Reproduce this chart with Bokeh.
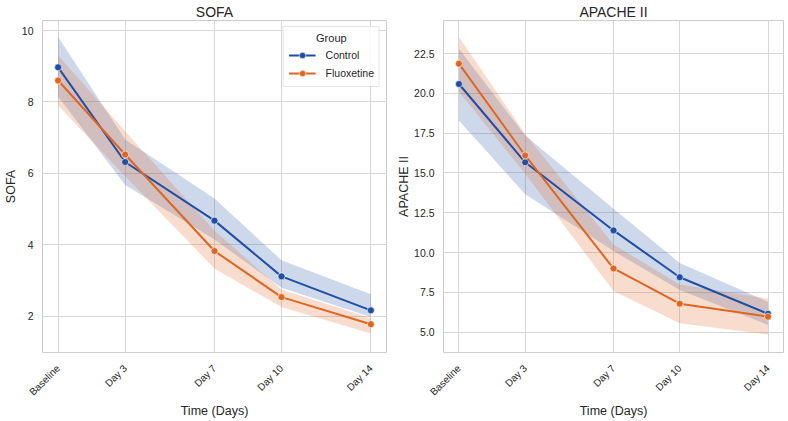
import math

from bokeh.embed import file_html
from bokeh.layouts import row
from bokeh.models import FixedTicker, Legend, LegendItem, PrintfTickFormatter, Range1d
from bokeh.plotting import figure
from bokeh.resources import INLINE

# Assessment days and their tick labels
days = [0, 3, 7, 10, 14]
day_labels = ["Baseline", "Day 3", "Day 7", "Day 10", "Day 14"]
groups = ["Control", "Fluoxetine"]

# SOFA score: group means with 95% CI bounds
sofa_control = [8.97, 6.32, 4.68, 3.12, 2.17]
sofa_control_lo = [8.15, 5.68, 4.15, 2.80, 1.98]
sofa_control_hi = [9.82, 6.95, 5.30, 3.57, 2.62]
sofa_fluox = [8.60, 6.53, 3.83, 2.54, 1.78]
sofa_fluox_lo = [7.90, 5.92, 3.34, 2.26, 1.52]
sofa_fluox_hi = [9.30, 7.18, 4.40, 2.75, 1.95]

# APACHE II score: group means with 95% CI bounds
apache_control = [20.59, 15.67, 11.39, 8.45, 6.15]
apache_control_lo = [18.30, 13.66, 10.10, 7.65, 5.45]
apache_control_hi = [22.80, 17.35, 12.75, 9.35, 6.90]
apache_fluox = [21.87, 16.10, 9.00, 6.79, 5.97]
apache_fluox_lo = [20.10, 14.95, 7.58, 5.56, 4.85]
apache_fluox_hi = [23.55, 17.45, 10.50, 8.00, 7.10]

sofa_ticks = [2, 4, 6, 8, 10]
apache_ticks = [5.0, 7.5, 10.0, 12.5, 15.0, 17.5, 20.0, 22.5]

COLORS = {"Control": "#1f4ea6", "Fluoxetine": "#e0661f"}
FONT = "Liberation Sans"
TEXT = "#262626"
GRID = "#d6d6d6"
NBSP = "\u00a0"


def make_panel(title, ylabel, y_range, yticks, yfmt, series,
               border_left, border_right, ylabel_standoff, legend):
    p = figure(
        width=394, height=421,
        x_range=Range1d(-0.7, 14.7), y_range=Range1d(*y_range),
        output_backend="svg", toolbar_location=None,
        min_border_left=border_left, min_border_right=border_right,
        min_border_top=20, min_border_bottom=69,
        title=title,
    )
    p.title.align = "center"
    p.title.text_font = FONT
    p.title.text_font_size = "14px"
    p.title.text_font_style = "normal"
    p.title.text_color = TEXT
    p.title.standoff = 2

    p.outline_line_color = "#cccccc"
    p.outline_line_width = 1
    p.background_fill_color = "white"
    p.border_fill_color = "white"

    p.xaxis.ticker = FixedTicker(ticks=days)
    p.xaxis.major_label_overrides = {d: lab for d, lab in zip(days, day_labels)}
    p.xaxis.major_label_orientation = math.pi / 4
    p.xaxis.axis_label = "Time (Days)"
    p.yaxis.ticker = FixedTicker(ticks=yticks)
    p.yaxis.formatter = PrintfTickFormatter(format=yfmt)
    p.yaxis.axis_label = ylabel

    for ax in (p.xaxis[0], p.yaxis[0]):
        ax.axis_line_color = None
        ax.major_tick_line_color = None
        ax.minor_tick_line_color = None
        ax.major_tick_out = 0
        ax.major_tick_in = 0
        ax.minor_tick_out = 0
        ax.minor_tick_in = 0
        ax.major_label_text_font = FONT
        ax.major_label_text_color = TEXT
        ax.axis_label_text_font = FONT
        ax.axis_label_text_font_size = "12.5px"
        ax.axis_label_text_font_style = "normal"
        ax.axis_label_text_color = TEXT
    p.xaxis.major_label_text_font_size = "10px"
    p.xaxis.major_label_standoff = 14
    p.xaxis.axis_label_standoff = 0
    p.yaxis.major_label_text_font_size = "10.5px"
    p.yaxis.major_label_standoff = 9
    p.yaxis.axis_label_standoff = ylabel_standoff

    p.grid.grid_line_color = GRID
    p.grid.grid_line_width = 1

    items = []
    for name, (mean, lo, hi) in series.items():
        c = COLORS[name]
        p.varea(x=days, y1=lo, y2=hi, fill_color=c, fill_alpha=0.22)
    for name, (mean, lo, hi) in series.items():
        c = COLORS[name]
        ln = p.line(days, mean, line_color=c, line_width=2)
        sc = p.scatter(days, mean, size=7, fill_color=c, line_color="white", line_width=0.6)
        items.append(LegendItem(label=name, renderers=[ln, sc]))

    if legend:
        lg = Legend(items=items, location="top_right")
        lg.title = NBSP * 9 + "Group"
        lg.title_text_font = FONT
        lg.title_text_font_size = "11px"
        lg.title_text_font_style = "normal"
        lg.title_text_color = TEXT
        lg.title_standoff = 3
        lg.label_text_font = FONT
        lg.label_text_font_size = "10.5px"
        lg.label_text_color = TEXT
        lg.glyph_width = 27
        lg.glyph_height = 16
        lg.label_height = 16
        lg.label_standoff = 10
        lg.spacing = 2
        lg.padding = 5
        lg.margin = 6
        lg.border_line_color = "#cccccc"
        lg.background_fill_alpha = 0.85
        p.add_layout(lg)
    return p


left = make_panel(
    "SOFA", "SOFA", (0.99, 10.28), sofa_ticks, "%d",
    {"Control": (sofa_control, sofa_control_lo, sofa_control_hi),
     "Fluoxetine": (sofa_fluox, sofa_fluox_lo, sofa_fluox_hi)},
    42, 8, 1, True,
)
right = make_panel(
    "APACHE II", "APACHE II", (3.72, 24.58), apache_ticks, "%.1f",
    {"Control": (apache_control, apache_control_lo, apache_control_hi),
     "Fluoxetine": (apache_fluox, apache_fluox_lo, apache_fluox_hi)},
    47, 5, 0, False,
)

layout = row(left, right)
open("out.html", "w").write(file_html(layout, INLINE))
